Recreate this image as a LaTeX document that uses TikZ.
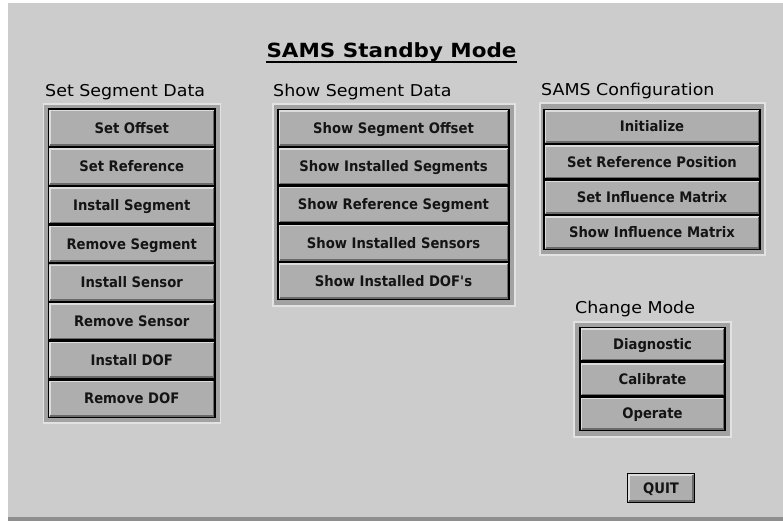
\documentclass[tikz,border=0pt]{standalone}
\usepackage{fontspec}
\newfontfamily\labfam[FakeStretch=1.07]{DejaVu Sans}
\newfontfamily\btnfam[FakeStretch=0.91]{DejaVu Sans}
\newfontfamily\ttlfam[FakeStretch=1.1]{DejaVu Sans}
\definecolor{panel}{HTML}{CCCCCC}
\definecolor{edgeline}{HTML}{8E8E8E}
\definecolor{frameband}{HTML}{A2A2A2}
\definecolor{framelight}{HTML}{E2E2E2}
\definecolor{btnfill}{HTML}{AEAEAE}
\definecolor{btnhi}{HTML}{DCDCDC}
\definecolor{btnsh}{HTML}{6A6A6A}
\tikzset{
  groupframe/.style={fill=frameband, draw=framelight, line width=1.4pt},
  lab/.style={inner sep=0pt, anchor=base west, text=black,
    font={\labfam\fontsize{16.3pt}{19pt}\selectfont}},
  btn/.style={draw=black, line width=1.3pt, fill=btnfill, inner sep=0pt,
    text=black!92, text height=10.6pt, text depth=0pt,
    font={\btnfam\bfseries\fontsize{14.5pt}{16pt}\selectfont},
    path picture={
      \draw[btnhi, line width=1.6pt]
        ([shift={(1.5pt,1.5pt)}]path picture bounding box.south west) |-
        ([shift={(-1.5pt,-1.5pt)}]path picture bounding box.north east);
      \draw[btnsh, line width=1.6pt]
        ([shift={(1.5pt,1.5pt)}]path picture bounding box.south west) -|
        ([shift={(-1.5pt,-1.5pt)}]path picture bounding box.north east);
    }},
}
\begin{document}
\begin{tikzpicture}[x=1pt,y=-1pt]
\useasboundingbox (0,0) rectangle (783,521);
\fill[white] (0,0) rectangle (783,521);
\fill[panel] (8,3) rectangle (783,517);
\fill[edgeline] (8,517) rectangle (783,521);

% title
\node[inner sep=0pt, anchor=base, text=black,
      font={\ttlfam\bfseries\fontsize{19.5pt}{22pt}\selectfont}] (title) at (391.5,58) {SAMS Standby Mode};
\draw[line width=2pt] ([yshift=-4pt]title.base west) -- ([yshift=-4pt]title.base east);

% group labels
\node[lab] (lssd) at (45,97) {Set Segment Data};
\node[lab] (lshd) at (273,97) {Show Segment Data};
\node[lab] (lcfg) at (541,96) {SAMS Configuration};
\node[lab] (lchg) at (575,313) {Change Mode};

% frames
\path[groupframe] (43.5,104) rectangle (220.5,423);
\path[groupframe] (273,104) rectangle (515,306);
\path[groupframe] (540,103) rectangle (765,255);
\path[groupframe] (574,322) rectangle (731,437);

% Set Segment Data buttons
\foreach \t [count=\i] in {Set Offset, Set Reference, Install Segment, Remove Segment,
    Install Sensor, Remove Sensor, Install DOF, Remove DOF}
  \node[btn, minimum width=166.5pt, minimum height=37.6pt] (ssd\i)
    at (131.75,{108.5+38.69*(\i-0.5)}) {\t};

% Show Segment Data buttons
\foreach \t [count=\i] in {Show Segment Offset, Show Installed Segments, Show Reference Segment,
    Show Installed Sensors, Show Installed DOF's}
  \node[btn, minimum width=231pt, minimum height=37.1pt] (shd\i)
    at (393.5,{109+38.2*(\i-0.5)}) {\t};

% SAMS Configuration buttons
\foreach \t [count=\i] in {Initialize, Set Reference Position, Set Influence Matrix, Show Influence Matrix}
  \node[btn, minimum width=216pt, minimum height=34.2pt] (cfg\i)
    at (652,{109+35.25*(\i-0.5)}) {\t};

% Change Mode buttons
\foreach \t [count=\i] in {Diagnostic, Calibrate, Operate}
  \node[btn, minimum width=145pt, minimum height=33.6pt] (chg\i)
    at (652.5,{327+34.67*(\i-0.5)}) {\t};

% Quit
\node[btn, minimum width=67pt, minimum height=29.5pt] (quit) at (661,488) {QUIT};
\end{tikzpicture}
\end{document}
